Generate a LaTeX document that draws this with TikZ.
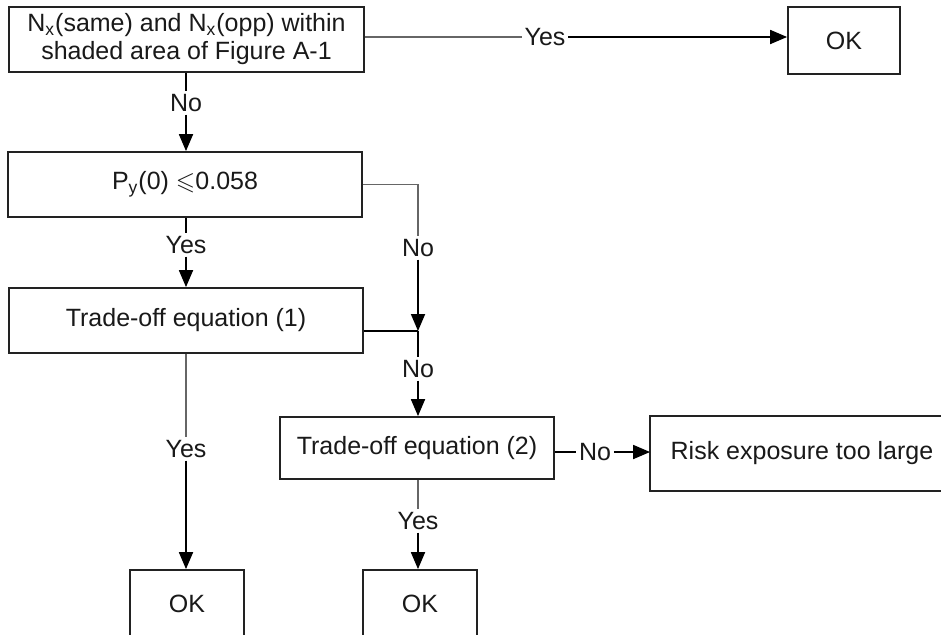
\documentclass[tikz,border=0pt]{standalone}
\usepackage{amssymb}
\usepackage{fontspec}
\setmainfont{Liberation Sans}
\usetikzlibrary{arrows.meta,calc}
\definecolor{boxline}{HTML}{222222}
\definecolor{thinline}{HTML}{666666}
\begin{document}
\begin{tikzpicture}[x=0.5pt,y=-0.5pt,
  every node/.style={font=\fontsize{12.5}{14}\selectfont, text=black!90},
  fbox/.style={draw=boxline, line width=0.9pt, rectangle, align=center, inner sep=0pt},
  lbl/.style={inner sep=1.2pt},
  thinconn/.style={draw=thinline, line width=0.55pt},
  arrconn/.style={draw=black, line width=0.9pt, -{Triangle[length=8.5pt,width=7pt]}},
  plainconn/.style={draw=black, line width=0.9pt}]
\useasboundingbox (0,0) rectangle (941,634);
\clip (0,0) rectangle (941,634);

% boxes
\node[fbox, minimum width=177.5pt, minimum height=32.5pt] (b1) at (186.5,39.5)
  {N\textsubscript{x}(same) and N\textsubscript{x}(opp) within\\shaded area of Figure A-1};
\node[fbox, minimum width=56pt, minimum height=33.5pt] (ok0) at (844,40.5) {OK};
\node[fbox, minimum width=177pt, minimum height=32.5pt] (b2) at (185,184.5)
  {P\textsubscript{y}(0) $\leqslant$0.058};
\node[fbox, minimum width=177pt, minimum height=32.5pt] (b3) at (186,320.5)
  {Trade-off equation (1)};
\node[fbox, minimum width=137pt, minimum height=31pt] (b4) at (417,448)
  {Trade-off equation (2)};
\node[fbox, draw=none, minimum width=151pt, minimum height=36.5pt] (risk) at (802,453.5)
  {Risk exposure too large};
\draw[draw=boxline, line width=0.9pt] ([xshift=40pt]risk.north east) -- (risk.north west)
  -- (risk.south west) -- ([xshift=40pt]risk.south east);
\node[fbox, minimum width=57pt, minimum height=34pt] (ok1) at (187,604) {OK};
\node[fbox, minimum width=57pt, minimum height=34pt] (ok2) at (420,604) {OK};

% junction
\coordinate (J) at (418,331);

% labels
\node[lbl] (y1) at (545,37) {Yes};
\node[lbl] (n1) at (186,103) {No};
\node[lbl] (y2) at (186,245) {Yes};
\node[lbl] (n2) at (418,248) {No};
\node[lbl] (n3) at (418,369) {No};
\node[lbl] (y3) at (186,449) {Yes};
\node[lbl] (n4) at (595,452) {No};
\node[lbl] (y4) at (418,521) {Yes};

% connectors
\draw[thinconn] (b1.east |- y1) -- (y1.west);
\draw[arrconn] (y1.east) -- (y1.east -| ok0.west);

\draw[plainconn] (b1.south -| n1) -- (n1.north);
\draw[arrconn] (n1.south) -- (n1 |- b2.north);

\draw[plainconn] (b2.south -| y2) -- (y2.north);
\draw[arrconn] (y2.south) -- (y2 |- b3.north);

\draw[thinconn] (b2.east) -- (n2 |- b2.east) -- (n2.north);
\draw[arrconn] (n2.south) -- (J);
\draw[plainconn] (b3.east |- J) -- (J);

\draw[plainconn] (J) -- (n3.north);
\draw[arrconn] (n3.south) -- (n3 |- b4.north);

\draw[thinconn] (b3.south -| y3) -- (y3.north);
\draw[arrconn] (y3.south) -- (y3 |- ok1.north);

\draw[plainconn] (b4.east |- n4) -- (n4.west);
\draw[arrconn] (n4.east) -- (n4 -| risk.west);

\draw[thinconn] (b4.south -| y4) -- (y4.north);
\draw[arrconn] (y4.south) -- (y4 |- ok2.north);
\end{tikzpicture}
\end{document}
